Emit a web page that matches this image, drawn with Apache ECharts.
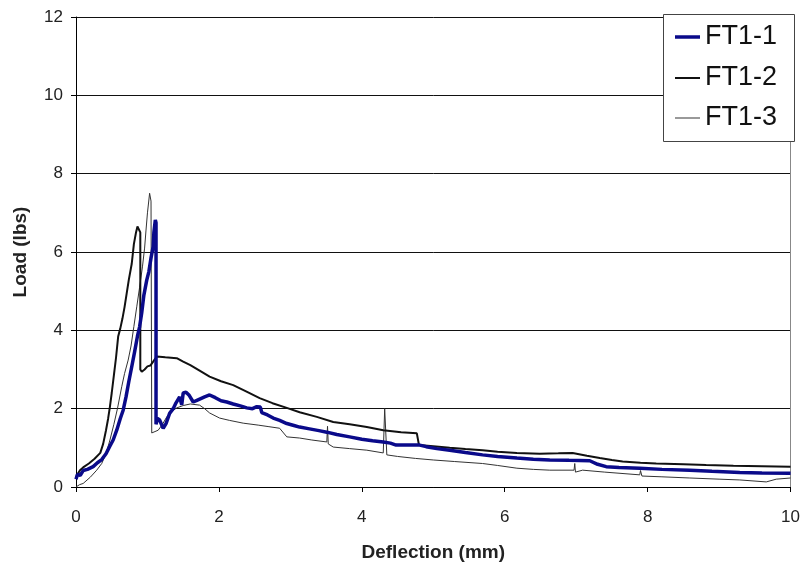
<!DOCTYPE html>
<html>
<head>
<meta charset="utf-8">
<script src="https://cdn.jsdelivr.net/npm/echarts@6/dist/echarts.min.js"></script>
<style>
  html, body { margin: 0; padding: 0; background: #fff; }
  #chart { width: 803px; height: 567px; }
</style>
</head>
<body>
<div id="chart"></div>
<script>
// Load–deflection traces for three FT1 specimens: [deflection (mm), load (lbs)]
const seriesNames = ['FT1-1', 'FT1-2', 'FT1-3'];
const xTicks = [0, 2, 4, 6, 8, 10];
const yTicks = [0, 2, 4, 6, 8, 10, 12];

const ft1_1 = [
  [0,0.2],[0.02,0.32],[0.06,0.3],[0.1,0.42],[0.16,0.45],[0.24,0.52],[0.3,0.62],[0.36,0.7],
  [0.42,0.85],[0.47,1.03],[0.52,1.2],[0.57,1.45],[0.62,1.75],[0.66,1.96],[0.7,2.3],[0.74,2.7],
  [0.78,3.07],[0.82,3.45],[0.86,3.85],[0.89,4.09],[0.92,4.45],[0.95,4.9],[0.99,5.28],[1.02,5.5],
  [1.05,5.85],[1.08,6.14],[1.09,6.5],[1.11,6.82],[1.12,6.75],[1.12,1.6],[1.14,1.75],[1.17,1.71],
  [1.22,1.5],[1.26,1.62],[1.31,1.88],[1.36,2.0],[1.4,2.15],[1.45,2.3],[1.48,2.1],[1.5,2.4],
  [1.54,2.42],[1.58,2.35],[1.64,2.17],[1.7,2.22],[1.8,2.3],[1.87,2.35],[1.95,2.28],[2.03,2.2],
  [2.11,2.17],[2.2,2.12],[2.3,2.07],[2.39,2.02],[2.47,2.0],[2.53,2.05],[2.58,2.04],[2.6,1.9],
  [2.68,1.84],[2.76,1.76],[2.85,1.7],[2.95,1.62],[3.05,1.57],[3.13,1.53],[3.25,1.49],[3.4,1.44],
  [3.51,1.4],[3.65,1.34],[3.83,1.28],[4.0,1.22],[4.15,1.18],[4.3,1.15],[4.4,1.12],[4.48,1.07],
  [4.65,1.07],[4.81,1.07],[4.9,1.03],[5.05,0.98],[5.23,0.94],[5.45,0.88],[5.69,0.82],[5.9,0.78],
  [6.17,0.74],[6.4,0.71],[6.63,0.69],[6.9,0.68],[7.19,0.67],[7.3,0.58],[7.42,0.52],[7.6,0.5],
  [7.89,0.48],[8.2,0.45],[8.59,0.43],[8.9,0.4],[9.29,0.37],[9.6,0.36],[10,0.35]
];

const ft1_2 = [
  [0,0.25],[0.03,0.35],[0.056,0.43],[0.1,0.5],[0.18,0.6],[0.26,0.72],[0.34,0.87],[0.38,1.1],
  [0.42,1.45],[0.45,1.75],[0.475,2.05],[0.5,2.4],[0.53,2.85],[0.56,3.3],[0.59,3.84],[0.62,4.05],
  [0.65,4.3],[0.68,4.6],[0.71,4.95],[0.74,5.3],[0.78,5.7],[0.81,6.2],[0.84,6.5],[0.86,6.65],
  [0.88,6.69],[0.9,6.5],[0.9,3.0],[0.92,2.94],[0.96,3.0],[1.0,3.08],[1.04,3.1],[1.08,3.2],
  [1.13,3.33],[1.25,3.31],[1.41,3.29],[1.5,3.2],[1.6,3.11],[1.73,2.97],[1.87,2.82],[2.03,2.7],
  [2.2,2.6],[2.38,2.44],[2.57,2.27],[2.75,2.14],[2.95,2.02],[3.13,1.91],[3.37,1.79],[3.6,1.66],
  [3.83,1.6],[4.07,1.53],[4.3,1.45],[4.55,1.4],[4.77,1.37],[4.8,1.07],[5.0,1.04],[5.23,1.0],
  [5.45,0.97],[5.69,0.94],[5.9,0.9],[6.17,0.87],[6.49,0.85],[6.75,0.86],[6.95,0.87],[7.15,0.8],
  [7.33,0.74],[7.5,0.69],[7.65,0.65],[7.9,0.62],[8.12,0.6],[8.5,0.58],[8.82,0.56],[9.2,0.54],
  [9.6,0.53],[10,0.52]
];

const ft1_3 = [
  [0,0.0],[0.05,0.06],[0.1,0.09],[0.2,0.25],[0.29,0.43],[0.36,0.6],[0.42,0.85],[0.475,1.2],
  [0.53,1.6],[0.58,2.0],[0.64,2.56],[0.68,2.9],[0.73,3.24],[0.77,3.6],[0.81,4.1],[0.85,4.6],
  [0.89,5.1],[0.93,5.62],[0.96,6.1],[0.98,6.56],[1.0,7.0],[1.03,7.5],[1.05,7.3],[1.06,1.38],
  [1.08,1.38],[1.15,1.45],[1.21,1.6],[1.27,1.79],[1.34,1.93],[1.41,2.02],[1.5,2.08],[1.6,2.12],
  [1.73,2.09],[1.8,2.0],[1.87,1.89],[2.01,1.76],[2.15,1.7],[2.34,1.63],[2.55,1.58],[2.7,1.54],
  [2.85,1.5],[2.95,1.28],[3.13,1.25],[3.3,1.2],[3.51,1.15],[3.52,1.55],[3.53,1.1],[3.6,1.02],
  [3.83,0.98],[4.07,0.94],[4.3,0.87],[4.32,2.0],[4.35,0.82],[4.5,0.78],[4.75,0.73],[5.0,0.69],
  [5.3,0.65],[5.69,0.6],[5.9,0.55],[6.17,0.48],[6.4,0.45],[6.63,0.43],[6.97,0.43],[6.98,0.6],
  [6.99,0.38],[7.09,0.43],[7.4,0.38],[7.89,0.31],[7.9,0.42],[7.92,0.28],[8.2,0.26],[8.59,0.23],
  [9.0,0.2],[9.29,0.18],[9.66,0.13],[9.8,0.2],[10,0.23]
];

const lineColors = ['#0a0a8a', '#111111', '#333333'];
const lineWidths = [3.5, 2, 1];
const fontFamily = 'Arial, "Liberation Sans", sans-serif';

const chart = echarts.init(document.getElementById('chart'));

function legendFor(i, top) {
  return {
    data: [{ name: seriesNames[i], itemStyle: { color: lineColors[i] } }],
    left: 675, top: top, padding: 0,
    icon: 'rect', itemWidth: 25, itemHeight: lineWidths[i],
    textStyle: { fontFamily, fontSize: 27, color: '#111', lineHeight: 30 },
    selectedMode: false
  };
}

chart.setOption({
  animation: false,
  backgroundColor: '#fff',
  grid: { left: 76, right: 12, top: 17, bottom: 80 },
  graphic: [{
    type: 'rect', z: 1,
    shape: { x: 663.5, y: 14.5, width: 131, height: 127 },
    style: { fill: '#fff', stroke: '#444', lineWidth: 1 }
  }],
  legend: [legendFor(0, 22), legendFor(1, 63), legendFor(2, 103)],
  xAxis: {
    type: 'value', min: xTicks[0], max: xTicks[xTicks.length - 1], interval: 2,
    name: 'Deflection (mm)', nameLocation: 'middle', nameGap: 56,
    nameTextStyle: { fontFamily, fontSize: 19, fontWeight: 'bold', color: '#222' },
    axisLine: { show: true, lineStyle: { color: '#000', width: 1 } },
    axisTick: { show: true, inside: false, length: 5, lineStyle: { color: '#000' } },
    axisLabel: { fontFamily, fontSize: 17, color: '#222', margin: 22 },
    splitLine: { show: false }
  },
  yAxis: [{
    type: 'value', min: yTicks[0], max: yTicks[yTicks.length - 1], interval: 2,
    name: 'Load (lbs)', nameLocation: 'middle', nameGap: 46, nameRotate: 90,
    nameTextStyle: { fontFamily, fontSize: 19, fontWeight: 'bold', color: '#222' },
    axisLine: { show: true, lineStyle: { color: '#000', width: 1 } },
    axisTick: { show: true, inside: false, length: 5, lineStyle: { color: '#000' } },
    axisLabel: { fontFamily, fontSize: 17, color: '#222', margin: 13 },
    splitLine: { show: true, lineStyle: { color: '#111', width: 1 } }
  }, {
    type: 'value', min: 0, max: 12, position: 'right',
    axisLine: { show: true, lineStyle: { color: '#888', width: 1 } },
    axisTick: { show: false }, axisLabel: { show: false }, splitLine: { show: false }
  }],
  series: [ft1_1, ft1_2, ft1_3].map((d, i) => ({
    name: seriesNames[i], type: 'line', data: d,
    showSymbol: false, symbol: 'none', z: 10 - i,
    lineStyle: { color: lineColors[i], width: lineWidths[i] },
    itemStyle: { color: lineColors[i] }
  }))
});
</script>
</body>
</html>
